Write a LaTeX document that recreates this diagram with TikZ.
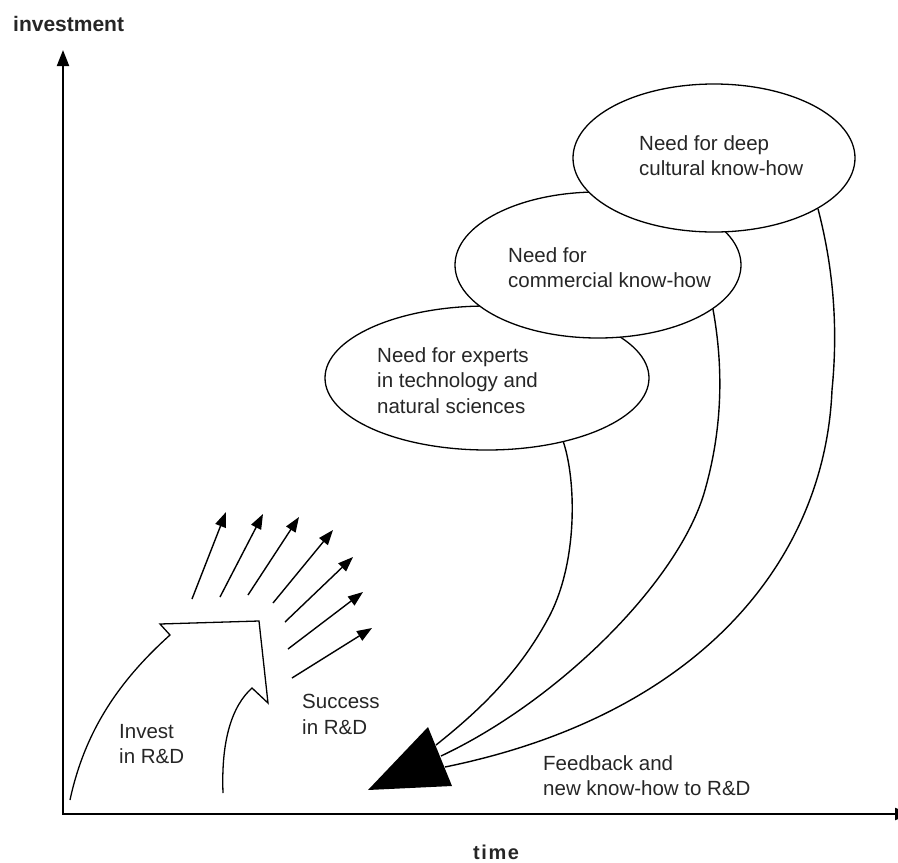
\documentclass[tikz,border=0pt]{standalone}
\usepackage{fontspec}
\setmainfont{Liberation Sans}
\usetikzlibrary{arrows.meta,shapes.geometric}
\begin{document}
\begin{tikzpicture}[x=1pt,y=-1pt,
  lbl/.style={font=\fontsize{20.5}{25.5}\selectfont, inner sep=0pt, align=left, anchor=base west, text=black!85},
  bub/.style={ellipse, draw, line width=1.3pt, fill=white, inner sep=0pt},
  curve/.style={line width=1.4pt},
  ray/.style={line width=1.4pt, -{Triangle[length=15pt,width=11pt]}},
  axis/.style={line width=2pt, {Triangle[length=16pt,width=12pt]}-{Triangle[length=16pt,width=12pt]}}]
\useasboundingbox (0,0) rectangle (898,863);
\clip (0,0) rectangle (898,863);

% axes
\coordinate (O) at (63,814);
\coordinate (Ytip) at (63,50);
\coordinate (Xtip) at (911,814);
\draw[axis] (Ytip) -- (O) -- (Xtip);
\node[font=\bfseries\fontsize{21}{25}\selectfont, anchor=base west, inner sep=0pt, text=black!85] (ylab) at (13,31) {investment};
\node[font=\bfseries\fontsize{20}{25}\selectfont\addfontfeatures{LetterSpace=8}, anchor=base west, inner sep=0pt, text=black!85] (xlab) at (473,859) {time};

% ellipses
\node[bub, minimum width=324pt, minimum height=144pt] (e1) at (487,378) {};
\node[bub, minimum width=286pt, minimum height=146pt] (e2) at (598,265) {};
\node[bub, minimum width=282pt, minimum height=148pt] (e3) at (714,158) {};

\node[lbl] (t1) at (377,413) {Need for experts\\in technology and\\natural sciences};
\node[lbl] (t2) at (508,287.5) {Need for\\commercial know-how};
\node[lbl] (t3) at (639,175.5) {Need for deep\\cultural know-how};

% feedback triangle
\coordinate (tA) at (368,790);
\coordinate (tB) at (428,727);
\coordinate (tC) at (452,786);
\fill (tA) -- (tB) -- (tC) -- cycle;
\coordinate (k1) at (436,745);
\coordinate (k2) at (441,756);
\coordinate (k3) at (445,767);

\draw[curve] (e1.-40.5) .. controls (576,480) and (578,560) .. (550,615) .. controls (520,672) and (480,710) .. (k1);
\draw[curve] (e2.-21) .. controls (724,370) and (722,430) .. (705,490) .. controls (680,580) and (560,700) .. (k2);
\draw[curve] (e3.-26) .. controls (834,270) and (838,330) .. (832,390) .. controls (825,560) and (700,715) .. (k3);

% big arrow
\coordinate (f1) at (70,800);
\coordinate (f2) at (170,635);
\coordinate (f3) at (160,624);
\coordinate (f4) at (259,621);
\coordinate (f5) at (268,703);
\coordinate (f6) at (252,688);
\coordinate (f7) at (223,793);
\draw[line width=1.3pt, line join=miter] (f1) .. controls (85,730) and (120,680) .. (f2) -- (f3) -- (f4) -- (f5) -- (f6) .. controls (232,706) and (221,740) .. (f7);

% rays
\foreach \i/\sx/\sy/\ex/\ey in {1/192/599/226/512, 2/220/597/263/514, 3/248/595/299/517, 4/273/603/333/530, 5/285/622/353/557, 6/288/649/363/592, 7/292/678/372/628}{
  \coordinate (rs\i) at (\sx,\sy);
  \coordinate (re\i) at (\ex,\ey);
  \draw[ray] (rs\i) -- (re\i);
}

\node[lbl] (inv) at (119,763.5) {Invest\\in R\&D};
\node[lbl] (suc) at (302,734) {Success\\in R\&D};
\node[lbl] (fb) at (543,795.5) {Feedback and\\new know-how to R\&D};
\end{tikzpicture}
\end{document}
